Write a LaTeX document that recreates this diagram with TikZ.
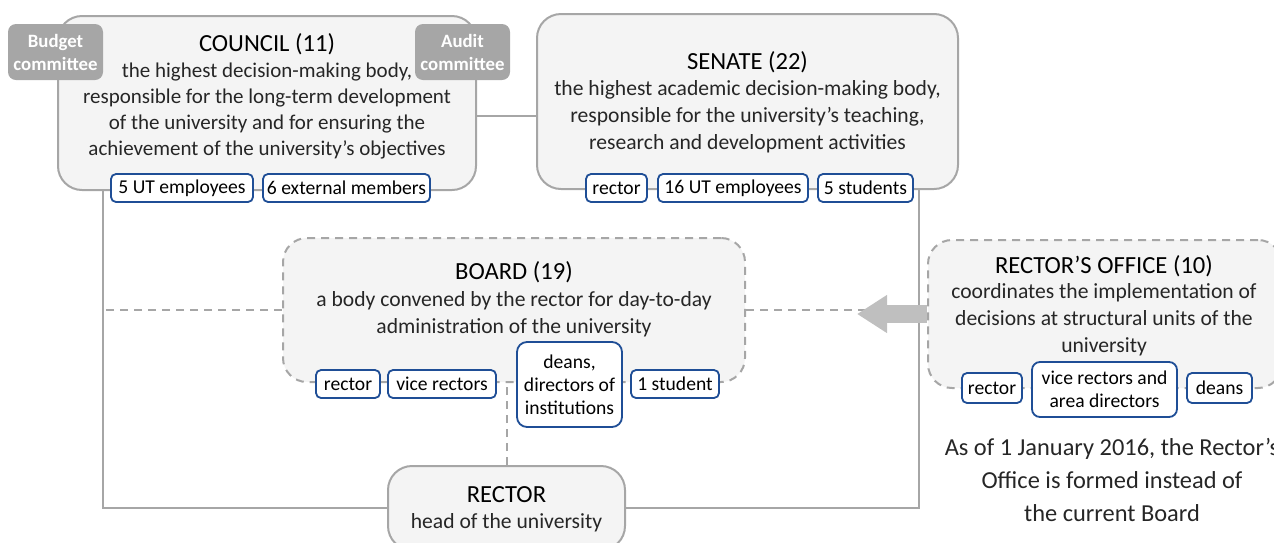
\documentclass[tikz,border=0pt]{standalone}
\usepackage{fontspec}
\setmainfont{Carlito}
\usetikzlibrary{arrows.meta, positioning}
\definecolor{boxfill}{HTML}{F4F4F4}
\definecolor{boxline}{HTML}{A6A6A6}
\definecolor{memline}{HTML}{1F4E96}
\definecolor{comfill}{HTML}{A6A6A6}
\definecolor{arrowfill}{HTML}{BFBFBF}
\definecolor{txt}{HTML}{262626}

\begin{document}
\begin{tikzpicture}[x=0.5pt, y=-0.5pt,
    body/.style={draw=boxline, fill=boxfill, line width=1pt, rounded corners=12pt, inner sep=0pt},
    dashbody/.style={body, dash pattern=on 4pt off 3pt},
    member/.style={draw=memline, fill=white, line width=0.9pt, rounded corners=2.5pt, inner sep=0pt,
        minimum height=14pt, align=center, text=black, font=\fontsize{9.8}{11.6}\selectfont},
    committee/.style={fill=comfill, rounded corners=4pt, minimum width=47.5pt, minimum height=28pt,
        inner sep=0pt, text=white, align=center, font=\bfseries\fontsize{9.4}{11.5}\selectfont},
    title/.style={font=\fontsize{12.3}{14}\selectfont, text=black},
    desc/.style={align=center, font=\fontsize{10.8}{13.4}\selectfont, text=txt},
    link/.style={draw=boxline, line width=1pt},
    dashlink/.style={link, dash pattern=on 4pt off 3pt}]

\useasboundingbox (0,0) rectangle (1274,542);

% main bodies
\node[body, minimum width=209pt, minimum height=87pt] (council) at (267,103) {};
\node[body, minimum width=210.5pt, minimum height=87.5pt] (senate) at (747.5,101.5) {};
\node[dashbody, minimum width=231pt, minimum height=72pt] (board) at (514,310) {};
\node[dashbody, minimum width=177pt, minimum height=74pt] (office) at (1105,314) {};
\node[body, minimum width=118.5pt, minimum height=42pt] (rector) at (506.5,508) {};

% committees
\node[committee] (budget) at (55.5,52) {Budget\\committee};
\node[committee] (audit) at (462.5,52) {Audit\\committee};

% texts
\node[title] (counciltitle) at (267,44) {COUNCIL (11)};
\node[desc, font=\fontsize{10.5}{13}\selectfont] (councildesc) at (267,111) {the highest decision-making body,\\responsible for the long-term development\\of the university and for ensuring the\\achievement of the university's objectives};
\node[title] (senatetitle) at (747.5,62) {SENATE (22)};
\node[desc] (senatedesc) at (747.5,117) {the highest academic decision-making body,\\responsible for the university's teaching,\\research and development activities};
\node[title] (boardtitle) at (514,272) {BOARD (19)};
\node[desc] (boarddesc) at (514,314.5) {a body convened by the rector for day-to-day\\administration of the university};
\node[title] (officetitle) at (1104,266) {RECTOR'S OFFICE (10)};
\node[desc] (officedesc) at (1104,320) {coordinates the implementation of\\decisions at structural units of the\\university};
\node[title] (rectortitle) at (506.5,495) {RECTOR};
\node[desc] (rectordesc) at (506.5,523) {head of the university};
\node[desc, font=\fontsize{12.2}{16.5}\selectfont] (note) at (1112,480) {As of 1 January 2016, the Rector's\\Office is formed instead of\\the current Board};

% members
\node[member, minimum width=71pt] (cemp) at (182,188) {5 UT employees};
\node[member, minimum width=83.5pt] (cext) at (346.5,188) {6 external members};
\node[member, minimum width=30.5pt] (srector) at (616.5,188) {rector};
\node[member, minimum width=75pt] (semp) at (733,188) {16 UT employees};
\node[member, minimum width=47.5pt] (sstud) at (865.5,188) {5 students};
\node[member, minimum width=32pt] (brector) at (348,384) {rector};
\node[member, minimum width=54pt] (bvice) at (442,384) {vice rectors};
\node[member, minimum width=52.5pt, minimum height=42.5pt, rounded corners=5pt] (bdeans) at (569.5,384.5) {deans,\\directors of\\institutions};
\node[member, minimum width=44pt] (bstud) at (675,384) {1 student};
\node[member, minimum width=30pt, minimum height=15pt] (orector) at (992,388) {rector};
\node[member, minimum width=72.5pt, minimum height=27.5pt, rounded corners=4pt] (ovice) at (1104.5,389.5) {vice rectors and\\area directors};
\node[member, minimum width=32.5pt, minimum height=15pt] (odeans) at (1219.5,388) {deans};

% connectors
\draw[link] ([yshift=-6.5pt]council.east) -- ([yshift=-6.5pt]council.east -| senate.west);
\draw[link] ([xshift=23pt]council.south west) coordinate (cdown) |- (rector.west);
\draw[link] ([xshift=-20pt]senate.south east) |- (rector.east);
\draw[dashlink] (board.west) -- (board.west -| cdown);
\draw[dashlink] (board.east) -- (board.east -| office.west);
\draw[dashlink] (rector.north) -- (rector.north |- board.south);
\draw[-{Triangle[width=18pt,length=15pt]}, line width=9pt, draw=arrowfill] (office.west) -- ([xshift=-35pt]office.west);

\end{tikzpicture}
\end{document}
